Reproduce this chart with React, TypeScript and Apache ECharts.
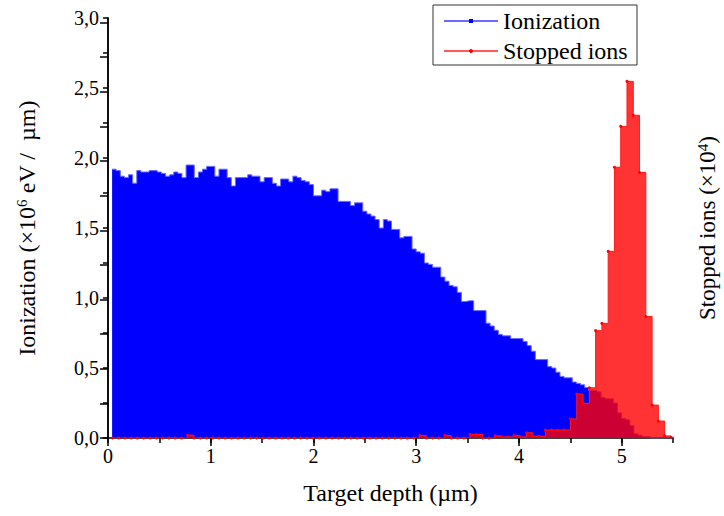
import React, { useEffect, useRef } from "react";
import * as echarts from "echarts";

// Ionization histogram (×10^6 eV / µm), bins of 0.04 µm starting at 0.04 µm
const IONIZATION_START = 0.04;
const IONIZATION_BIN = 0.04;
const ionization = [
  1.92, 1.91, 1.87, 1.86, 1.88, 1.82, 1.91, 1.90, 1.90, 1.91,
  1.91, 1.90, 1.89, 1.87, 1.88, 1.90, 1.89, 1.86, 1.95, 1.95,
  1.86, 1.90, 1.92, 1.94, 1.94, 1.87, 1.92, 1.92, 1.86, 1.80,
  1.86, 1.86, 1.86, 1.88, 1.87, 1.87, 1.83, 1.86, 1.86, 1.82,
  1.80, 1.85, 1.85, 1.83, 1.87, 1.86, 1.84, 1.83, 1.81, 1.73,
  1.73, 1.77, 1.76, 1.78, 1.78, 1.69, 1.69, 1.69, 1.66, 1.68,
  1.68, 1.62, 1.60, 1.585, 1.56, 1.50, 1.56, 1.55, 1.49, 1.49,
  1.43, 1.44, 1.44, 1.35, 1.33, 1.32, 1.25, 1.24, 1.22, 1.22,
  1.15, 1.12, 1.09, 1.08, 1.04, 0.975, 0.98, 0.98, 0.91, 0.91,
  0.91, 0.82, 0.80, 0.77, 0.74, 0.73, 0.73, 0.71, 0.71, 0.71,
  0.69, 0.66, 0.62, 0.56, 0.56, 0.56, 0.51, 0.50, 0.47, 0.44,
  0.43, 0.43, 0.40, 0.39, 0.38, 0.36, 0.34, 0.34, 0.33, 0.29,
  0.28, 0.28, 0.25, 0.18, 0.14, 0.13, 0.09, 0.03, 0.02, 0.01,
  0.01, 0, 0, 0, 0, 0, 0,
];

// Stopped ions histogram (right axis units), bins of 0.0611 µm starting at 0.042 µm
const STOPPED_START = 0.042;
const STOPPED_BIN = 0.0611;
const stoppedIons = [
  0, 0, 0, 0, 0, 0, 0, 0, 0, 0,
  0, 0, 0.08, 0, 0, 0, 0, 0, 0, 0,
  0, 0, 0, 0, 0, 0, 0, 0, 0, 0,
  0, 0, 0, 0, 0, 0, 0, 0, 0, 0,
  0, 0, 0, 0, 0, 0, 0, 0, 0, 0.07,
  0, 0, 0, 0.07, 0, 0, 0, 0.1, 0.1, 0,
  0, 0.06, 0.03, 0.03, 0.07, 0.03, 0.15, 0.05, 0.05, 0.23,
  0.23, 0.23, 0.23, 0.55, 1.27, 1.0, 1.45, 3.10, 3.31, 5.39,
  7.82, 9.0, 10.3, 9.32, 7.67, 3.51, 0.95, 0.49, 0.06, 0.02,
];

const xMajorTicks = [0, 1, 2, 3, 4, 5];
const rightTicks = [0, 1, 2, 3, 4, 5, 6, 7, 8, 9, 10, 11, 12];

const FONT = "'Liberation Serif', 'Times New Roman', serif";

function toSteps(start: number, width: number, values: number[]) {
  const pts = values.map((v, i) => [start + i * width, v]);
  pts.push([start + values.length * width, values[values.length - 1]]);
  return pts;
}

export default function App() {
  const ref = useRef<HTMLDivElement>(null);
  useEffect(() => {
    document.body.style.margin = "0";
    if (!ref.current) return;
    const chart = echarts.init(ref.current, undefined, { renderer: "svg" });
    chart.setOption({
      animation: false,
      backgroundColor: "#ffffff",
      grid: { left: 108, right: 51, top: 18, bottom: 78, containLabel: false, outerBoundsMode: "none" },
      legend: {
        orient: "vertical",
        left: 433,
        top: 5,
        padding: [3, 6, 1, 10],
        borderColor: "#333",
        borderWidth: 1,
        itemWidth: 54,
        itemHeight: 5,
        itemGap: 4,
        textStyle: { fontFamily: FONT, fontSize: 24, color: "#000", lineHeight: 26, width: 128 },
        data: [
          { name: "Ionization", itemStyle: { color: "#0000ee" }, lineStyle: { color: "#6b6bff", width: 2 } },
          { name: "Stopped ions", itemStyle: { color: "#ff0000" }, lineStyle: { color: "#ff2020", width: 1.5 } },
        ],
      },
      xAxis: [
        {
          type: "value",
          min: 0,
          max: 5.5,
          interval: 0.5,
          position: "bottom",
          axisLine: { show: true, lineStyle: { color: "#000", width: 1.5 } },
          axisTick: { show: true, length: 5, lineStyle: { color: "#000", width: 1.5 } },
          axisLabel: { show: false },
          splitLine: { show: false },
          name: "Target depth (µm)",
          nameLocation: "middle",
          nameGap: 43,
          nameTextStyle: { fontFamily: FONT, fontSize: 24, color: "#000" },
        },
        {
          type: "value",
          min: 0,
          max: 5.5,
          interval: 1,
          position: "bottom",
          axisLine: { show: false },
          axisTick: { show: true, length: 8, customValues: xMajorTicks, lineStyle: { color: "#000", width: 1.5 } },
          axisLabel: {
            show: true,
            customValues: xMajorTicks,
            margin: 8,
            fontFamily: FONT,
            fontSize: 20,
            color: "#000",
          },
          splitLine: { show: false },
        },
      ],
      yAxis: [
        {
          type: "value",
          min: 0,
          max: 3,
          interval: 0.5,
          position: "left",
          axisLine: { show: true, lineStyle: { color: "#000", width: 1.5 } },
          axisTick: { show: true, length: 5, lineStyle: { color: "#000", width: 1.5 } },
          minorTick: { show: true, splitNumber: 2, length: 5, lineStyle: { color: "#000", width: 1.5 } },
          axisLabel: {
            margin: 9,
            fontFamily: FONT,
            fontSize: 20,
            color: "#000",
            formatter: (v: number) => v.toFixed(1).replace(".", ","),
          },
          splitLine: { show: false },
          name: "{a|Ionization (×10}{s|6}{a| eV /  µm)}",
          nameLocation: "middle",
          nameGap: 68,
          nameRotate: 90,
          nameTextStyle: {
            color: "#000",
            rich: {
              a: { fontFamily: FONT, fontSize: 24, color: "#000", lineHeight: 26 },
              s: { fontFamily: FONT, fontSize: 15, color: "#000", verticalAlign: "top", lineHeight: 26 },
            },
          },
        },
        {
          type: "value",
          min: 0,
          max: 12.13,
          position: "right",
          axisLine: { show: true, lineStyle: { color: "#000", width: 1.5 } },
          axisTick: { show: true, inside: true, length: 8, customValues: rightTicks, lineStyle: { color: "#000", width: 1.5 } },
          axisLabel: { show: false },
          splitLine: { show: false },
          name: "{a|Stopped ions (×10}{s|4}{a|)}",
          nameLocation: "middle",
          nameGap: 22,
          nameRotate: 90,
          nameTextStyle: {
            color: "#000",
            rich: {
              a: { fontFamily: FONT, fontSize: 23, color: "#000", lineHeight: 24 },
              s: { fontFamily: FONT, fontSize: 15, color: "#000", verticalAlign: "top", lineHeight: 24 },
            },
          },
        },
      ],
      series: [
        {
          name: "Ionization",
          type: "line",
          xAxisIndex: 0,
          yAxisIndex: 0,
          step: "end",
          data: toSteps(IONIZATION_START, IONIZATION_BIN, ionization),
          symbol: "rect",
          showSymbol: false,
          lineStyle: { color: "#6b6bff", width: 1 },
          itemStyle: { color: "#0000ee" },
          areaStyle: { color: "#0000ff", opacity: 1 },
          z: 2,
        },
        {
          name: "Stopped ions",
          type: "line",
          xAxisIndex: 0,
          yAxisIndex: 1,
          step: "end",
          data: toSteps(STOPPED_START, STOPPED_BIN, stoppedIons),
          symbol: "circle",
          symbolSize: 3,
          showSymbol: true,
          showAllSymbol: true,
          lineStyle: { color: "#ff1a1a", width: 1 },
          itemStyle: { color: "#ff0000" },
          areaStyle: { color: "#ff0000", opacity: 0.8 },
          z: 3,
        },
      ],
    });
    return () => chart.dispose();
  }, []);
  return <div ref={ref} style={{ width: 724, height: 516 }} />;
}
